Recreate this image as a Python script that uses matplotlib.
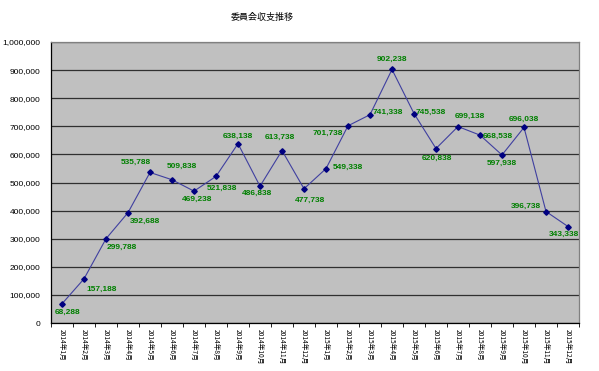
import matplotlib
matplotlib.use("Agg")
import matplotlib.pyplot as plt
from matplotlib.ticker import FuncFormatter, FixedLocator

plt.rcParams['font.family'] = ['Liberation Sans', 'Noto Sans CJK JP', 'DejaVu Sans']

title = "委員会収支推移"
months = [f"2014年{m}月" for m in range(1, 13)] + [f"2015年{m}月" for m in range(1, 13)]
values = [68288, 157188, 299788, 392688, 535788, 509838, 469238, 521838,
          638138, 486838, 613738, 477738, 549338, 701738, 741338, 902238,
          745538, 620838, 699138, 668538, 597938, 696038, 396738, 343338]
yticks = list(range(0, 1000001, 100000))
# label offsets in pixels (dx, dy) relative to each point
offsets = [(6, -9), (18, -11), (16, -9), (17, -9), (-14, 10), (10, 13), (3, -8), (6, -12),
           (0, 7), (-3, -7), (-2, 13), (6, -12), (22, 1), (-20, -8), (18, 2), (0, 10),
           (17, 1), (1, -10), (12, 10), (18, -1), (0, -8), (0, 8), (-20, 5), (-4, -8)]

fig = plt.figure(figsize=(5.99, 3.71), dpi=100)
ax = fig.add_axes([51/599, 48/371, 528/599, 281/371])
ax.set_facecolor('#C0C0C0')

x = list(range(len(values)))
ax.plot(x, values, color='#4040A0', lw=0.8, marker='D', markersize=2.8,
        markerfacecolor='#000080', markeredgecolor='#000080', zorder=3)

for xi, v, (dx, dy) in zip(x, values, offsets):
    ax.annotate(f"{v:,}", (xi, v), xytext=(dx, dy), textcoords='offset pixels',
                ha='center', va='center', fontsize=6, fontweight='bold',
                color='#008000', zorder=4)

ax.set_xlim(-0.5, len(values) - 0.5)
ax.set_ylim(0, 1000000)
ax.set_yticks(yticks)
ax.yaxis.set_major_formatter(FuncFormatter(lambda v, p: f"{int(v):,}"))
ax.tick_params(axis='y', length=0, pad=7.5, labelsize=6)
ax.grid(axis='y', color='#303030', lw=0.9)
ax.set_axisbelow(True)

ax.set_xticks(x)
ax.set_xticklabels(months, rotation=270, fontsize=4.8, family=['Noto Sans CJK JP', 'DejaVu Sans'])
ax.tick_params(axis='x', length=0, pad=4)
ax.xaxis.set_minor_locator(FixedLocator([i - 0.5 for i in range(len(values) + 1)]))
ax.tick_params(axis='x', which='minor', length=3, direction='out', color='#000000', width=0.6)

for s in ['top', 'right']:
    ax.spines[s].set_color('#808080')
for s in ['left', 'bottom']:
    ax.spines[s].set_color('#000000')
for s in ax.spines.values():
    s.set_linewidth(0.9)

fig.text(262/599, 1 - 17/371, title, ha='center', va='center', fontsize=6.5,
         family=['Noto Sans CJK JP', 'DejaVu Sans'])

fig.savefig('out.png', dpi=100)
